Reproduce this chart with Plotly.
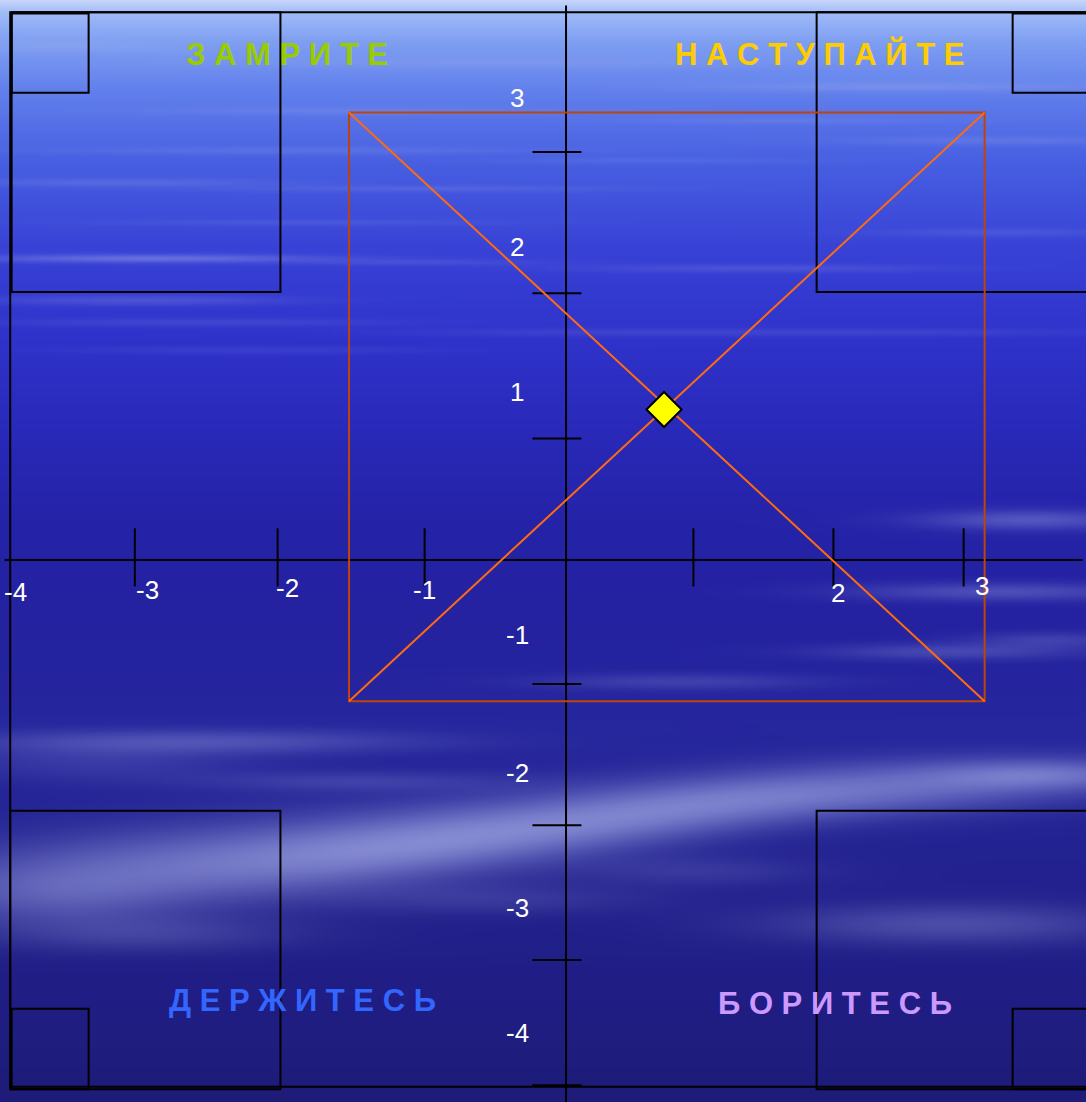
import numpy as np
import zlib, struct, base64
import plotly.graph_objects as go

# ---------------- data (in axis units) ----------------
x_tick_marks = [-3.08, -2.06, -1.01, 0.91, 1.91, 2.84]
y_tick_marks = [3.09, 2.02, 0.92, -0.94, -2.01, -3.03, -3.98]

x_tick_labels = ["-4", "-3", "-2", "-1", "2", "3"]
x_label_pos = [-3.93, -2.99, -1.99, -1.01, 1.94, 2.97]
x_label_y = [-0.24, -0.23, -0.21, -0.23, -0.25, -0.20]

y_tick_labels = ["3", "2", "1", "-1", "-2", "-3", "-4"]
y_label_pos = [3.50, 2.37, 1.27, -0.57, -1.61, -2.64, -3.58]
y_label_x = -0.35

square_x = [-1.55, 2.99]
square_y = [-1.07, 3.39]
point_x = [0.70]
point_y = [1.14]

words = ["З А М Р И Т Е", "Н А С Т У П А Й Т Е", "Д Е Р Ж И Т Е С Ь", "Б О Р И Т Е С Ь"]
word_x = [-1.99, 1.81, -1.88, 1.92]
word_y = [3.83, 3.83, -3.34, -3.36]

# corner boxes [x0, x1, y0, y1]
big_boxes = [[-3.96, -2.04, 4.15, 2.03], [1.79, 3.80, 4.15, 2.03],
             [-3.97, -2.04, -1.90, -4.01], [1.79, 3.80, -1.90, -4.01]]
small_boxes = [[-3.96, -3.41, 4.14, 3.54], [3.19, 3.80, 4.14, 3.54],
               [-3.96, -3.41, -3.40, -4.01], [3.19, 3.80, -3.40, -4.01]]
frame_box = [-3.97, 3.80, 4.15, -3.99]
x_axis_extent = [-4.01, 3.69]
y_axis_extent = [4.20, -4.11]
x_range = [-4.043, 3.714]
y_range = [-4.106, 4.242]

# ---------------- style ----------------
W, H = 1086, 1102
word_colors = ["#99cc00", "#ffcc00", "#3366ff", "#cc99ff"]
FONT = "Arial, Liberation Sans, sans-serif"

# ---------------- background picture (sky texture) ----------------
def make_background(w, h):
    ys = np.linspace(0, 1102, h)[:, None]
    xs = np.linspace(0, 1086, w)[None, :]
    stops = [(0, (198, 212, 250)), (12, (160, 188, 248)), (40, (128, 160, 242)),
             (90, (98, 128, 236)), (160, (72, 96, 226)), (250, (56, 66, 214)),
             (330, (48, 52, 204)), (420, (42, 42, 188)), (520, (37, 35, 168)),
             (620, (36, 34, 160)), (720, (38, 38, 158)), (1000, (32, 30, 132)),
             (1102, (30, 28, 120))]
    sy = np.array([s[0] for s in stops], float)
    base = np.zeros((h, w, 3))
    for c in range(3):
        col = np.interp(ys[:, 0], sy, [s[1][c] for s in stops])
        base[:, :, c] = col[:, None]
    blobs = [
        # fine water-like streaks in the upper part
        (150, 258, 170, 4, 0, 0.42), (420, 262, 120, 3, 0, 0.14),
        (140, 300, 150, 5, 0, 0.22), (200, 322, 200, 4, 0, 0.14),
        (120, 182, 150, 4, 0, 0.2), (300, 150, 250, 4, 0, 0.16),
        (420, 188, 200, 3, 0, 0.16), (900, 86, 200, 5, 0, 0.26),
        (760, 268, 180, 4, 0, 0.18), (350, 110, 200, 4, 0, 0.16),
        (650, 160, 150, 3, 0, 0.13), (1000, 140, 150, 4, 0, 0.18),
        (1000, 232, 120, 4, 0, 0.14), (60, 45, 110, 6, 0, 0.18),
        (500, 62, 250, 5, 0, 0.16), (300, 222, 200, 3, 0, 0.13),
        (600, 332, 200, 4, 0, 0.11), (900, 332, 200, 4, 0, 0.11),
        (250, 350, 180, 4, 0, 0.1), (780, 120, 150, 3, 0, 0.14),
        # right middle wisps
        (1030, 520, 110, 10, 0, 0.35), (1000, 592, 150, 9, 0, 0.3),
        (950, 652, 130, 8, 0, 0.25), (1050, 640, 80, 8, 0, 0.2),
        (680, 682, 140, 8, 0, 0.2),
        # lower clouds
        (200, 742, 230, 12, 0, 0.3), (100, 762, 150, 20, 0, 0.15),
        (350, 782, 150, 10, 0, 0.18),
        (170, 866, 260, 40, -0.07, 0.45), (420, 842, 200, 36, -0.12, 0.42),
        (650, 815, 200, 30, -0.12, 0.45), (900, 790, 220, 26, -0.05, 0.42),
        (1050, 775, 120, 15, 0, 0.35), (950, 925, 180, 20, 0, 0.3),
        (150, 935, 150, 18, 0, 0.2), (500, 900, 150, 15, 0, 0.15),
        (60, 900, 120, 30, 0, 0.18), (700, 872, 120, 15, 0, 0.15),
    ]
    a = np.zeros((h, w))
    for cx, cy, sx, syy, sl, amp in blobs:
        dx = (xs - cx) / sx
        dy = (ys - (cy + sl * (xs - cx))) / syy
        a += amp * np.exp(-(dx ** 2) - dy ** 2)
    a = np.clip(a, 0, 0.8)[:, :, None]
    cloud = np.array([172, 180, 236], float)[None, None, :]
    img = base * (1 - a) + cloud * a
    return np.clip(img, 0, 255).astype(np.uint8)


def png_uri(arr):
    h, w, _ = arr.shape
    raw = b"".join(b"\x00" + arr[i].tobytes() for i in range(h))

    def chunk(t, d):
        return struct.pack(">I", len(d)) + t + d + struct.pack(">I", zlib.crc32(t + d) & 0xFFFFFFFF)

    png = (b"\x89PNG\r\n\x1a\n" + chunk(b"IHDR", struct.pack(">IIBBBBB", w, h, 8, 2, 0, 0, 0))
           + chunk(b"IDAT", zlib.compress(raw, 9)) + chunk(b"IEND", b""))
    return "data:image/png;base64," + base64.b64encode(png).decode()


bg = png_uri(make_background(543, 551))

fig = go.Figure()

# axes lines
fig.add_trace(go.Scatter(x=x_axis_extent, y=[0, 0], mode="lines",
                         line=dict(color="black", width=2), hoverinfo="skip"))
fig.add_trace(go.Scatter(x=[0, 0], y=y_axis_extent, mode="lines",
                         line=dict(color="black", width=2), hoverinfo="skip"))

# tick marks
tx, ty = [], []
for v in x_tick_marks:
    tx += [v, v, None]
    ty += [0.24, -0.20, None]
for v in y_tick_marks:
    tx += [-0.24, 0.11, None]
    ty += [v, v, None]
fig.add_trace(go.Scatter(x=tx, y=ty, mode="lines", line=dict(color="black", width=2),
                         hoverinfo="skip"))

# orange square and diagonals
x0, x1 = square_x
y0, y1 = square_y
fig.add_trace(go.Scatter(x=[x0, x1, x1, x0, x0], y=[y1, y1, y0, y0, y1], mode="lines",
                         line=dict(color="#c04408", width=2), hoverinfo="skip"))
fig.add_trace(go.Scatter(x=[x0, x1, None, x0, x1], y=[y0, y1, None, y1, y0], mode="lines",
                         line=dict(color="#ff6a10", width=2), hoverinfo="skip"))
fig.add_trace(go.Scatter(x=point_x, y=point_y, mode="markers",
                         marker=dict(symbol="diamond", size=27, color="#ffff00",
                                     line=dict(color="black", width=2)), hoverinfo="skip"))

shapes = []
fx0, fx1, fy0, fy1 = frame_box
shapes.append(dict(type="rect", xref="x", yref="y", x0=fx0, x1=fx1, y0=fy0, y1=fy1,
                   line=dict(color="black", width=2), layer="below"))
for b in big_boxes + small_boxes:
    shapes.append(dict(type="rect", xref="x", yref="y", x0=b[0], x1=b[1], y0=b[2], y1=b[3],
                       line=dict(color="black", width=2), layer="below"))

ann = []
for t, xv, yv in zip(x_tick_labels, x_label_pos, x_label_y):
    ann.append(dict(x=xv, y=yv, text=t, showarrow=False, xref="x", yref="y",
                    font=dict(family=FONT, size=26, color="white")))
for t, yv in zip(y_tick_labels, y_label_pos):
    ann.append(dict(x=y_label_x, y=yv, text=t, showarrow=False, xref="x", yref="y",
                    font=dict(family=FONT, size=26, color="white")))
for t, xv, yv, c in zip(words, word_x, word_y, word_colors):
    ann.append(dict(x=xv, y=yv, text="<b>" + t + "</b>", showarrow=False, xref="x", yref="y",
                    font=dict(family=FONT, size=31, color=c)))

fig.update_layout(
    width=W, height=H, margin=dict(l=0, r=0, t=0, b=0),
    paper_bgcolor="#2a2aa8", plot_bgcolor="rgba(0,0,0,0)",
    showlegend=False,
    xaxis=dict(range=x_range, visible=False, fixedrange=True),
    yaxis=dict(range=y_range, visible=False, fixedrange=True),
    images=[dict(source=bg, xref="paper", yref="paper", x=0, y=1, sizex=1, sizey=1,
                 sizing="stretch", layer="below", xanchor="left", yanchor="top")],
    shapes=shapes, annotations=ann,
)

fig.write_html("out.html", config={"displayModeBar": False},
               post_script="document.body.style.margin='0';document.body.style.padding='0';"
                           "document.body.style.overflow='hidden';")
